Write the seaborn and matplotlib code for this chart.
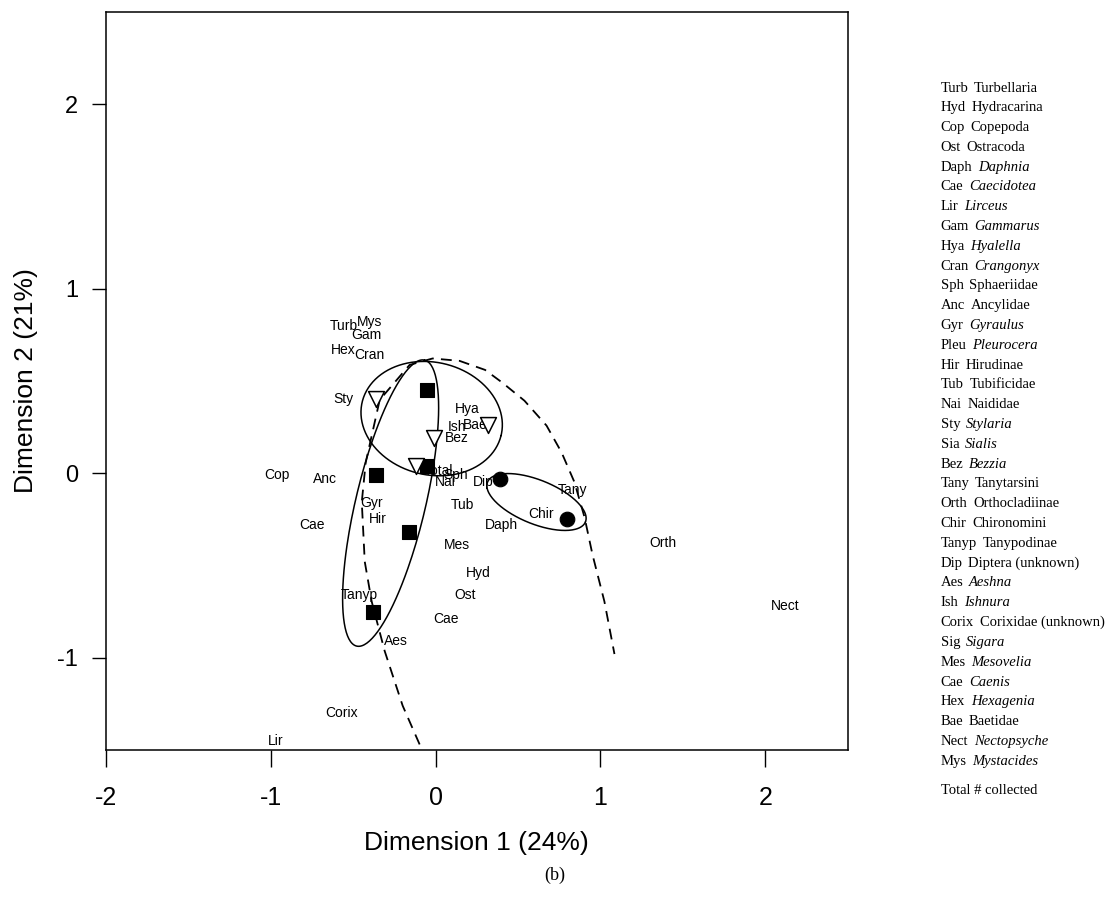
import numpy as np
import pandas as pd
import seaborn as sns
import matplotlib.pyplot as plt

# taxon scores (Dimension 1, Dimension 2)
taxa = ["Turb", "Mys", "Gam", "Hex", "Cran", "Sty", "Hya", "Ish", "Bae", "Bez",
        "Total", "Sph", "Nai", "Dip", "Cop", "Anc", "Gyr", "Hir", "Tub", "Daph",
        "Chir", "Tany", "Mes", "Hyd", "Tanyp", "Ost", "Cae", "Aes", "Cae", "Orth",
        "Nect", "Corix", "Lir"]
taxa_dim1 = [-0.56, -0.40, -0.42, -0.56, -0.40, -0.56, 0.19, 0.13, 0.24, 0.13,
             0.02, 0.12, 0.06, 0.29, -0.96, -0.67, -0.39, -0.35, 0.16, 0.40,
             0.64, 0.83, 0.13, 0.26, -0.46, 0.18, 0.06, -0.24, -0.75, 1.38,
             2.12, -0.57, -0.97]
taxa_dim2 = [0.80, 0.82, 0.75, 0.67, 0.64, 0.40, 0.35, 0.25, 0.26, 0.19,
             0.01, -0.01, -0.05, -0.05, -0.01, -0.03, -0.16, -0.25, -0.17, -0.28,
             -0.22, -0.09, -0.39, -0.54, -0.66, -0.66, -0.79, -0.91, -0.28, -0.38,
             -0.72, -1.30, -1.45]

# site scores by group
square_dim1 = [-0.05, -0.36, -0.05, -0.16, -0.38]
square_dim2 = [0.45, -0.01, 0.04, -0.32, -0.75]
triangle_dim1 = [-0.36, -0.01, 0.32, -0.12]
triangle_dim2 = [0.40, 0.19, 0.26, 0.04]
circle_dim1 = [0.39, 0.80]
circle_dim2 = [-0.03, -0.25]

# group ellipses: centre and two conjugate semi-axes
ell_cx = [-0.024, -0.273, 0.612]
ell_cy = [0.296, -0.162, -0.156]
ell_u = [(0.421, -0.092), (0.206, 0.775), (0.297, -0.108)]
ell_v = [(-0.082, -0.296), (0.206, -0.043), (-0.050, -0.110)]

# dashed boundary curve
curve_dim1 = [-0.097, -0.200, -0.309, -0.388, -0.430, -0.448, -0.424, -0.339,
              -0.158, -0.018, 0.145, 0.300, 0.406, 0.539, 0.673, 0.764, 0.842,
              0.903, 0.952, 1.024, 1.085]
curve_dim2 = [-1.470, -1.260, -0.964, -0.695, -0.479, -0.156, 0.059, 0.398,
              0.587, 0.622, 0.609, 0.560, 0.490, 0.393, 0.258, 0.113, -0.048,
              -0.237, -0.442, -0.695, -0.980]

# key on the right
key_abbr = ["Turb", "Hyd", "Cop", "Ost", "Daph", "Cae", "Lir", "Gam", "Hya", "Cran",
            "Sph", "Anc", "Gyr", "Pleu", "Hir", "Tub", "Nai", "Sty", "Sia", "Bez",
            "Tany", "Orth", "Chir", "Tanyp", "Dip", "Aes", "Ish", "Corix", "Sig",
            "Mes", "Cae", "Hex", "Bae", "Nect", "Mys"]
key_name = ["Turbellaria", "Hydracarina", "Copepoda", "Ostracoda", "Daphnia",
            "Caecidotea", "Lirceus", "Gammarus", "Hyalella", "Crangonyx",
            "Sphaeriidae", "Ancylidae", "Gyraulus", "Pleurocera", "Hirudinae",
            "Tubificidae", "Naididae", "Stylaria", "Sialis", "Bezzia",
            "Tanytarsini", "Orthocladiinae", "Chironomini", "Tanypodinae",
            "Diptera (unknown)", "Aeshna", "Ishnura", "Corixidae (unknown)",
            "Sigara", "Mesovelia", "Caenis", "Hexagenia", "Baetidae",
            "Nectopsyche", "Mystacides"]
key_italic = [0, 0, 0, 0, 1, 1, 1, 1, 1, 1,
              0, 0, 1, 1, 0, 0, 0, 1, 1, 1,
              0, 0, 0, 0, 0, 1, 1, 0, 1,
              1, 1, 1, 0, 1, 1]

sns.set_theme(style="white")
plt.rcParams["font.family"] = ["Liberation Sans", "DejaVu Sans"]
plt.rcParams["axes.unicode_minus"] = False
plt.rcParams["text.color"] = "black"
plt.rcParams["axes.labelcolor"] = "black"
plt.rcParams["xtick.color"] = "black"
plt.rcParams["ytick.color"] = "black"

fig = plt.figure(figsize=(11.12, 9), dpi=100)
ax = fig.add_axes([0.0953, 0.1667, 0.667, 0.82])

for name, x, y in zip(taxa, taxa_dim1, taxa_dim2):
    ax.text(x, y, name, fontsize=10, ha="center", va="center", zorder=2)

sns.lineplot(x=curve_dim1, y=curve_dim2, sort=False, estimator=None,
             color="black", linewidth=1.3, linestyle="--", ax=ax)
ax.lines[-1].set_dashes([6, 4])

t = np.linspace(0, 2 * np.pi, 200)
for cx, cy, u, v in zip(ell_cx, ell_cy, ell_u, ell_v):
    ax.plot(cx + u[0] * np.cos(t) + v[0] * np.sin(t),
            cy + u[1] * np.cos(t) + v[1] * np.sin(t),
            color="black", linewidth=1.1)

sns.scatterplot(x=square_dim1, y=square_dim2, marker="s", s=95, color="black",
                edgecolor="black", ax=ax, zorder=3)
sns.scatterplot(x=triangle_dim1, y=triangle_dim2, marker="v", s=130,
                facecolor="white", edgecolor="black", linewidth=1.1, ax=ax, zorder=3)
sns.scatterplot(x=circle_dim1, y=circle_dim2, marker="o", s=110, color="black",
                edgecolor="black", ax=ax, zorder=3)

ax.set_xlim(-2, 2.5)
ax.set_ylim(-1.5, 2.5)
ax.set_xticks([-2, -1, 0, 1, 2])
ax.set_yticks([-1, 0, 1, 2])
ax.tick_params(axis="x", direction="out", length=12, width=1, pad=14,
               labelsize=18, bottom=True, color="black")
ax.tick_params(axis="y", direction="out", length=10, width=1, pad=10,
               labelsize=17, left=True, color="black")
for sp in ax.spines.values():
    sp.set_color("black")
    sp.set_linewidth(1.1)

ax.set_xlabel("Dimension 1 (24%)", fontsize=19)
ax.set_ylabel("Dimension 2 (21%)", fontsize=19)
ax.xaxis.set_label_coords(0.5, -0.11)
ax.yaxis.set_label_coords(-0.092, 0.5)

# species key
y0 = 1 - 88 / 900
dy = 19.8 / 900
for i, (ab, nm, it) in enumerate(zip(key_abbr, key_name, key_italic)):
    lab = fig.text(0.846, y0 - i * dy, ab, family="Liberation Serif",
                   fontsize=10.5, va="center", ha="left")
    ax.annotate(nm, xy=(1, 0.5), xycoords=lab, xytext=(4, 0),
                textcoords="offset points", family="Liberation Serif",
                fontsize=10.5, va="center", ha="left",
                style="italic" if it else "normal", annotation_clip=False)
fig.text(0.846, y0 - 35.5 * dy, "Total # collected", family="Liberation Serif",
         fontsize=10.5, va="center", ha="left")

fig.text(555 / 1112, 1 - 875 / 900, "(b)", family="Liberation Serif",
         fontsize=13, ha="center", va="center")

fig.savefig("out.png", dpi=100)
